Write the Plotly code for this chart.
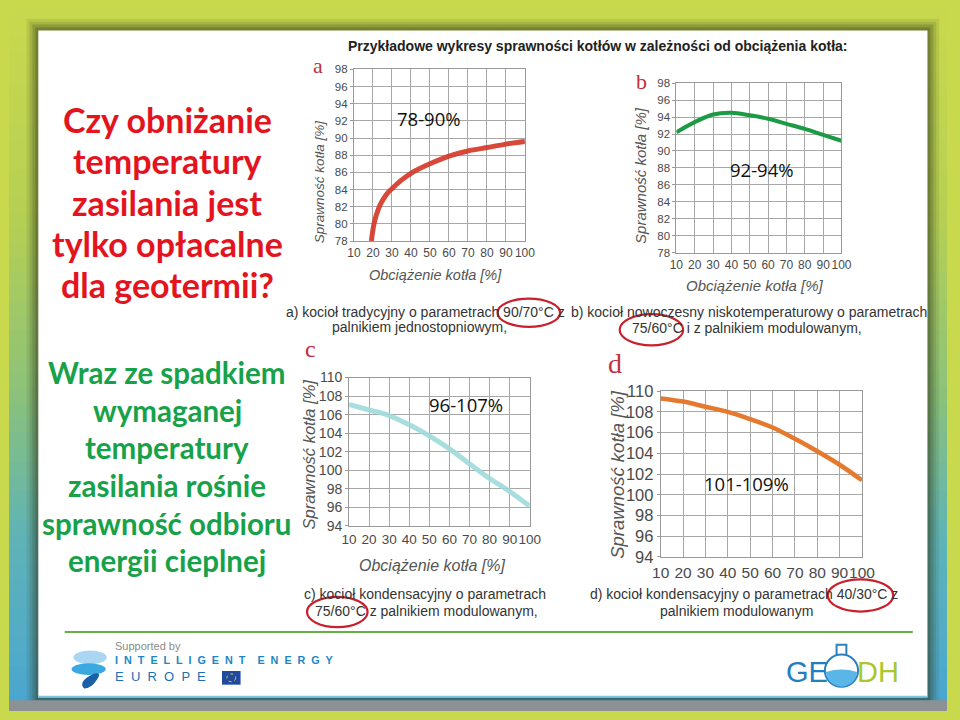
import plotly.graph_objects as go
import numpy as np

W, H = 960, 720

# ---------------- data ----------------
load_ticks = [10, 20, 30, 40, 50, 60, 70, 80, 90, 100]
eff_ticks_ab = [78, 80, 82, 84, 86, 88, 90, 92, 94, 96, 98]
eff_ticks_cd = [94, 96, 98, 100, 102, 104, 106, 108, 110]

a_load = [19.2, 20, 21, 22.5, 24, 27, 30, 35, 40, 50, 60, 70, 80, 90, 100]
a_eff = [78.0, 79.3, 80.4, 81.5, 82.3, 83.4, 84.1, 85.1, 85.9, 87.0, 87.9, 88.5, 88.9, 89.3, 89.6]

b_load = [10, 20, 30, 40, 50, 60, 70, 80, 90, 100]
b_eff = [92.2, 93.4, 94.3, 94.5, 94.2, 93.8, 93.2, 92.6, 91.9, 91.2]

c_load = [10, 20, 30, 40, 50, 60, 70, 80, 90, 100]
c_eff = [107.1, 106.5, 105.9, 104.9, 103.7, 102.3, 100.7, 99.1, 97.7, 96.1]

d_load = [10, 20, 30, 40, 50, 60, 70, 80, 90, 100]
d_eff = [109.3, 109.0, 108.5, 108.0, 107.3, 106.5, 105.4, 104.2, 102.9, 101.4]

range_labels = ["78-90%", "92-94%", "96-107%", "101-109%"]

def px(x):
    return x / W

def py(y):
    return 1 - y / H

fig = go.Figure()

shapes = []
annotations = []

# ---------------- background frame ----------------
stops = [(0.0, (201, 217, 78)), (0.3, (182, 208, 84)), (0.55, (140, 194, 122)),
         (0.75, (96, 180, 182)), (1.0, (74, 166, 210))]
n = 48
for i in range(n):
    t = (i + 0.5) / n
    for k in range(len(stops) - 1):
        if stops[k][0] <= t <= stops[k + 1][0]:
            f = (t - stops[k][0]) / (stops[k + 1][0] - stops[k][0])
            c = [int(stops[k][1][j] + f * (stops[k + 1][1][j] - stops[k][1][j])) for j in range(3)]
            break
    shapes.append(dict(type="rect", xref="paper", yref="paper", x0=0, x1=1,
                       y0=py(H * (i + 1) / n), y1=py(H * i / n) + 0.001,
                       fillcolor=f"rgb({c[0]},{c[1]},{c[2]})", line=dict(width=0), layer="below"))
# shadow around the panel
for d, a in [(12, 0.10), (9, 0.14), (6, 0.2), (3, 0.28)]:
    shapes.append(dict(type="rect", xref="paper", yref="paper", x0=px(30 - d), x1=px(940 + d),
                       y0=py(706 + d), y1=py(22 - d), fillcolor=f"rgba(50,60,30,{a})",
                       line=dict(width=0), layer="below"))
# bottom strip
shapes.append(dict(type="rect", xref="paper", yref="paper", x0=0, x1=1, y0=0, y1=py(709),
                   fillcolor="#8b9194", line=dict(width=0), layer="below"))
# white panel
shapes.append(dict(type="rect", xref="paper", yref="paper", x0=px(30), x1=px(940), y0=py(706), y1=py(22),
                   fillcolor="white", line=dict(width=0), layer="below"))
shapes.append(dict(type="line", xref="paper", yref="paper", x0=px(30), x1=px(940), y0=py(705.5), y1=py(705.5),
                   line=dict(color="#7cc4e4", width=2), layer="below"))

# ---------------- charts ----------------
charts = [
    dict(x=(353, 528), y=(62, 238), lx=a_load, ly=a_eff, color="rgba(214,58,40,0.92)", w=5,
         yt=eff_ticks_ab, yr=[78, 98], tf=11.5, xtf=12),
    dict(x=(683, 852), y=(76, 250), lx=b_load, ly=b_eff, color="#1c9a44", w=4,
         yt=eff_ticks_ab, yr=[78, 98], tf=11.5, xtf=12),
    dict(x=(348, 533), y=(378, 530), lx=c_load, ly=c_eff, color="rgba(160,218,220,0.9)", w=5,
         yt=eff_ticks_cd, yr=[94, 110], tf=14, xtf=13.5),
    dict(x=(667, 873), y=(392, 562), lx=d_load, ly=d_eff, color="#e57a2e", w=4.5,
         yt=eff_ticks_cd, yr=[94, 110], tf=16.5, xtf=15.5),
]

layout_axes = {}
for i, ch in enumerate(charts):
    sfx = "" if i == 0 else str(i + 1)
    fig.add_trace(go.Scatter(x=ch["lx"], y=ch["ly"], mode="lines", line=dict(color=ch["color"], width=ch["w"], shape="spline"),
                             xaxis="x" + sfx, yaxis="y" + sfx, showlegend=False, hoverinfo="skip"))
    tickfont = dict(family="Liberation Sans, Arial, sans-serif", size=ch["tf"], color="#4a4a4a")
    xtickfont = dict(family="Liberation Sans, Arial, sans-serif", size=ch["xtf"], color="#4a4a4a")
    layout_axes["xaxis" + sfx] = dict(domain=[px(ch["x"][0]), px(ch["x"][1])], range=[10, 100],
                                      tickvals=load_ticks, showgrid=True, gridcolor="#a8a8a8", gridwidth=1,
                                      showline=True, linecolor="#999", mirror=True, zeroline=False,
                                      tickfont=xtickfont, ticks="", tickangle=0, anchor="y" + sfx, fixedrange=True,
                                      ticklabelstandoff=1)
    layout_axes["yaxis" + sfx] = dict(domain=[py(ch["y"][1]), py(ch["y"][0])], range=ch["yr"],
                                      tickvals=ch["yt"], showgrid=True, gridcolor="#a8a8a8", gridwidth=1,
                                      showline=True, linecolor="#999", mirror=True, zeroline=False,
                                      tickfont=tickfont, ticks="outside", ticklen=3, tickcolor="#999",
                                      anchor="x" + sfx, fixedrange=True)

ital = "Liberation Sans, Arial, sans-serif"
ytitle = "Sprawność kotła [%]"
xtitle = "Obciążenie kotła [%]"
for (x, y, s) in [(318, 177, 13.5), (647, 171, 15), (307, 457, 16.5), (622, 478, 18.5)]:
    annotations.append(dict(x=px(x), y=py(y), xref="paper", yref="paper", text=f"<i>{ytitle}</i>",
                            textangle=-90, showarrow=False, font=dict(family=ital, size=s, color="#555"),
                            xanchor="center", yanchor="middle"))
for (x, y, s) in [(436, 273, 14.5), (764, 284, 15), (433, 571, 16)]:
    annotations.append(dict(x=px(x), y=py(y), xref="paper", yref="paper", text=f"<i>{xtitle}</i>",
                            showarrow=False, font=dict(family=ital, size=s, color="#555"),
                            xanchor="center", yanchor="middle"))

# panel letters
for (t, x, y, s) in [("a", 316, 58, 22), ("b", 647, 74, 22), ("c", 309, 349, 24), ("d", 620, 364, 28)]:
    annotations.append(dict(x=px(x), y=py(y), xref="paper", yref="paper", text=t, showarrow=False,
                            font=dict(family="Liberation Serif, DejaVu Serif, serif", size=s, color="#c2303c"),
                            xanchor="center", yanchor="middle"))

# range labels
for (t, x, y) in zip(range_labels, [430, 771, 468, 755], [112, 165, 406, 487]):
    annotations.append(dict(x=px(x), y=py(y), xref="paper", yref="paper", text=t, showarrow=False,
                            font=dict(family="Open Sans, Lato, sans-serif", size=18.5, color="#111"),
                            xanchor="center", yanchor="middle"))

# title
annotations.append(dict(x=px(603), y=py(38), xref="paper", yref="paper",
                        text="<b>Przykładowe wykresy sprawności kotłów w zależności od obciążenia kotła:</b>",
                        showarrow=False, font=dict(family="Liberation Sans, Arial", size=14, color="#222"),
                        xanchor="center", yanchor="middle"))

# captions
cap_font = dict(family="Liberation Sans, Arial", size=14, color="#333")
caps = [
    ("a) kocioł tradycyjny o parametrach 90/70°C z", 281, 311, "left"),
    ("palnikiem jednostopniowym,", 420, 326, "center"),
    ("b) kocioł nowoczesny niskotemperaturowy o parametrach", 573, 311, "left"),
    ("75/60°C i z palnikiem modulowanym,", 636, 327, "left"),
    ("c) kocioł kondensacyjny o parametrach", 300, 600, "left"),
    ("75/60°C z palnikiem modulowanym,", 311, 617, "left"),
    ("d) kocioł kondensacyjny o parametrach 40/30°C z", 593, 600, "left"),
    ("palnikiem modulowanym", 745, 617, "center"),
]
for (t, x, y, anc) in caps:
    annotations.append(dict(x=px(x), y=py(y), xref="paper", yref="paper", text=t, showarrow=False,
                            font=cap_font, xanchor=anc, yanchor="middle"))

# red ellipses
for (x0, x1, y0, y1) in [(500, 564, 297, 326), (625, 690, 313, 345), (305, 367, 603, 634), (838, 905, 585, 618)]:
    shapes.append(dict(type="circle", xref="paper", yref="paper", x0=px(x0), x1=px(x1), y0=py(y1), y1=py(y0),
                       line=dict(color="#c8202c", width=2.2)))

# left texts
red_lines = ["Czy obniżanie", "temperatury", "zasilania jest", "tylko opłacalne", "dla geotermii?"]
for k, t in enumerate(red_lines):
    annotations.append(dict(x=px(162), y=py(113 + 42.5 * k), xref="paper", yref="paper", text=f"<b>{t}</b>",
                            showarrow=False, font=dict(family="Lato, Open Sans, sans-serif", size=34, color="#e4141e"),
                            xanchor="center", yanchor="middle"))
green_lines = ["Wraz ze spadkiem", "wymaganej", "temperatury", "zasilania rośnie", "sprawność odbioru", "energii cieplnej"]
for k, t in enumerate(green_lines):
    annotations.append(dict(x=px(162), y=py(373 + 38.6 * k), xref="paper", yref="paper", text=f"<b>{t}</b>",
                            showarrow=False, font=dict(family="Lato, Open Sans, sans-serif", size=29.5, color="#17a24a"),
                            xanchor="center", yanchor="middle"))

# footer line
shapes.append(dict(type="line", xref="paper", yref="paper", x0=px(57), x1=px(925), y0=py(639), y1=py(639),
                   line=dict(color="#66b044", width=2)))

# IEE logo
annotations.append(dict(x=px(106), y=py(653), xref="paper", yref="paper", text="Supported by", showarrow=False,
                        font=dict(family="Liberation Sans, Arial", size=11, color="#8a8a8a"), xanchor="left", yanchor="middle"))
annotations.append(dict(x=px(106), y=py(668), xref="paper", yref="paper", text="<b>I  N  T  E  L  L  I  G  E  N  T    E  N  E  R  G  Y</b>",
                        showarrow=False, font=dict(family="Liberation Sans, Arial", size=10.8, color="#1d86c6"),
                        xanchor="left", yanchor="middle"))
annotations.append(dict(x=px(106), y=py(685), xref="paper", yref="paper", text="E  U  R  O  P  E",
                        showarrow=False, font=dict(family="Liberation Sans, Arial", size=13, color="#1d6fb2"),
                        xanchor="left", yanchor="middle"))
shapes.append(dict(type="rect", xref="paper", yref="paper", x0=px(218), x1=px(237), y0=py(693), y1=py(679),
                   fillcolor="#1f4aa0", line=dict(width=0)))
shapes.append(dict(type="circle", xref="paper", yref="paper", x0=px(223), x1=px(232), y0=py(690), y1=py(682),
                   line=dict(color="#e8d030", width=1, dash="dot")))
shapes.append(dict(type="circle", xref="paper", yref="paper", x0=px(66), x1=px(100), y0=py(672), y1=py(658),
                   fillcolor="#a9d6f0", line=dict(width=0)))
shapes.append(dict(type="circle", xref="paper", yref="paper", x0=px(64), x1=px(99), y0=py(683), y1=py(671),
                   fillcolor="#3ba8e0", line=dict(width=0)))
shapes.append(dict(type="path", xref="paper", yref="paper",
                   path=f"M {px(77)},{py(697)} Q {px(70)},{py(690)} {px(86)},{py(682)} Q {px(96)},{py(679)} {px(90)},{py(688)} Q {px(84)},{py(697)} {px(77)},{py(697)} Z",
                   fillcolor="#1a5fa8", line=dict(width=0)))

# GEODH logo
annotations.append(dict(x=px(840), y=py(680), xref="paper", yref="paper", text="GE", showarrow=False,
                        font=dict(family="Liberation Sans, Arial", size=29, color="#1f7fc0"), xanchor="right", yanchor="middle"))
annotations.append(dict(x=px(866), y=py(680), xref="paper", yref="paper", text="DH", showarrow=False,
                        font=dict(family="Liberation Sans, Arial", size=29, color="#a8c82c"), xanchor="left", yanchor="middle"))
shapes.append(dict(type="rect", xref="paper", yref="paper", x0=px(847), x1=px(857), y0=py(665), y1=py(652),
                   fillcolor="white", line=dict(color="#2a80c0", width=2)))
shapes.append(dict(type="circle", xref="paper", yref="paper", x0=px(835), x1=px(869), y0=py(695), y1=py(662),
                   fillcolor="white", line=dict(color="#2a80c0", width=2)))
shapes.append(dict(type="path", xref="paper", yref="paper",
                   path=f"M {px(836)},{py(680)} Q {px(852)},{py(675)} {px(868)},{py(680)} Q {px(866)},{py(694)} {px(852)},{py(695)} Q {px(838)},{py(694)} {px(836)},{py(680)} Z",
                   fillcolor="#5ab6e6", line=dict(width=0)))

fig.update_layout(
    width=W, height=H, margin=dict(l=0, r=0, t=0, b=0),
    paper_bgcolor="#c9d94e", plot_bgcolor="white",
    shapes=shapes, annotations=annotations, showlegend=False,
    **layout_axes,
)

fig.write_html("out.html")
